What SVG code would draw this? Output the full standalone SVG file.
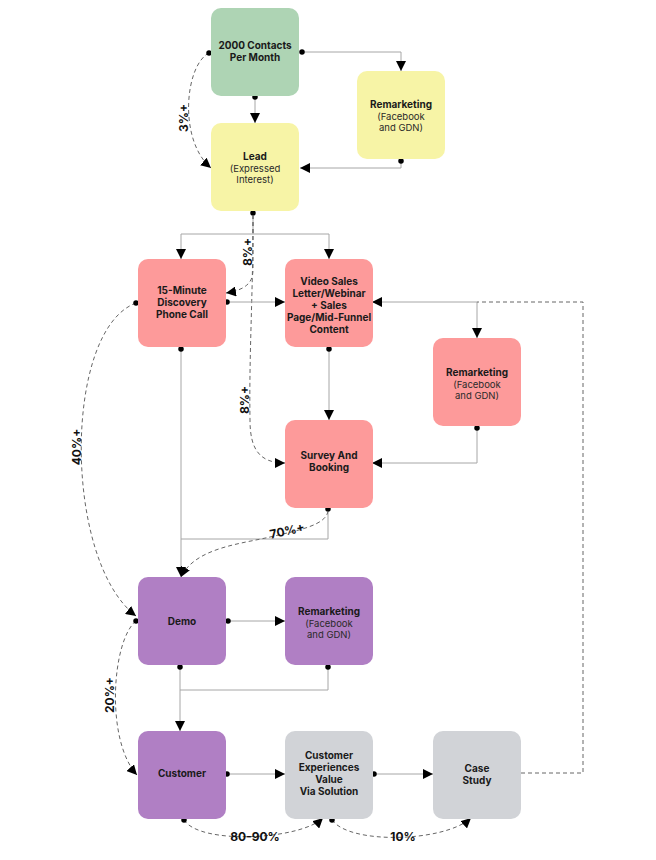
<svg xmlns="http://www.w3.org/2000/svg" width="656" height="860" viewBox="0 0 656 860">
<defs>
<marker id="arr" viewBox="0 0 10 10" refX="10" refY="5" markerWidth="10" markerHeight="10" markerUnits="userSpaceOnUse" orient="auto"><path d="M0,0 L10,5 L0,10 z" fill="#000" stroke="none"/></marker>
<marker id="dot" viewBox="0 0 6 6" refX="3" refY="3" markerWidth="5.5" markerHeight="5.5" markerUnits="userSpaceOnUse"><circle cx="3" cy="3" r="3" fill="#000" stroke="none"/></marker>
</defs>
<style>
.n rect{rx:10;ry:10}
.green{fill:#aed4b4}
.yellow{fill:#f7f4a6}
.pink{fill:#fd9a9a}
.purple{fill:#b07fc4}
.grey{fill:#d1d3d7}
text{font-family:Inter,"Noto Sans","DejaVu Sans",sans-serif;text-anchor:middle;fill:#1a1a1a}
.t{font-size:10px;font-weight:700}
.s{font-size:9.5px;font-weight:400;fill:#2a2a2a}
.c path{fill:none;stroke:#a6a6a6;stroke-width:1}
.c path.d{stroke:#666;stroke-dasharray:4 3}
.c path.a{marker-end:url(#arr)}
.c path.p{marker-start:url(#dot)}
.lbl{font-size:12px;font-weight:700;fill:#111}
</style>
<g class="c" id="connectors">
<path class="a p" d="M302,52 H401 V71"/>
<path class="a p" d="M255,97 V123"/>
<path class="a p" d="M401,161 V168 H300"/>
<path class="d a p" d="M209,53 C185,65 178,140 211,168"/>
<path class="a p" d="M253,213 V234 H181 V259"/>
<path class="a" d="M253,234 H329 V259"/>
<path class="d a" d="M253,215 V270 C253,283 245,290 226,293"/>
<path class="d a" d="M253,215 C253,300 249,350 250,420 C250,450 260,463 285,463"/>
<path class="a p" d="M227,302 H285"/>
<path class="a" d="M477,302 H372"/>
<path class="a" d="M477,302 V338"/>
<path class="d" d="M521,773 H583 V302 H477"/>
<path class="a p" d="M181,349 V577"/>
<path class="a p" d="M329,349 V420"/>
<path class="a p" d="M477,428 V463 H372"/>
<path class="p" d="M328,509 V539 H181"/>
<path class="d a" d="M328,511 C326,525 300,530 270,537 S195,548 181,577"/>
<path class="d a p" d="M136,303 C63,330 63,560 136,616"/>
<path class="d a p" d="M136,621 C112,640 105,740 137,775"/>
<path class="a p" d="M228,621 H285"/>
<path class="a p" d="M180,667 V731"/>
<path class="p" d="M328,667 V690 H180"/>
<path class="a p" d="M227,774 H285"/>
<path class="a p" d="M374,774 H433"/>
<path class="d a p" d="M184,820 C200,845 300,840 323,818"/>
<path class="d a p" d="M332,820 C350,845 445,842 471,818"/>
</g>
<g id="labels">
<text class="lbl" transform="translate(188,118) rotate(-90)">3%+</text>
<text class="lbl" transform="translate(252,252) rotate(-90)">8%+</text>
<text class="lbl" transform="translate(249,400) rotate(-90)">8%+</text>
<text class="lbl" transform="translate(288,535) rotate(-12)">70%+</text>
<text class="lbl" transform="translate(81,447) rotate(-90)">40%+</text>
<text class="lbl" transform="translate(114,695) rotate(-90)">20%+</text>
<text class="lbl" x="255" y="841">80-90%</text>
<text class="lbl" x="403" y="841">10%</text>
</g>
<g class="n" id="contacts"><rect class="green" x="211" y="8" width="88" height="88"/><text class="t" x="255" y="49">2000 Contacts</text><text class="t" x="255" y="61">Per Month</text></g>
<g class="n" id="remarketing1"><rect class="yellow" x="357" y="71" width="88" height="88"/><text class="t" x="401" y="108">Remarketing</text><text class="s" x="401" y="120">(Facebook</text><text class="s" x="401" y="131">and GDN)</text></g>
<g class="n" id="lead"><rect class="yellow" x="211" y="123" width="88" height="88"/><text class="t" x="255" y="160">Lead</text><text class="s" x="255" y="172">(Expressed</text><text class="s" x="255" y="183">Interest)</text></g>
<g class="n" id="discovery"><rect class="pink" x="138" y="259" width="88" height="88"/><text class="t" x="182" y="294">15-Minute</text><text class="t" x="182" y="306">Discovery</text><text class="t" x="182" y="318">Phone Call</text></g>
<g class="n" id="vsl"><rect class="pink" x="285" y="259" width="88" height="88"/><text class="t" x="329" y="285">Video Sales</text><text class="t" x="329" y="297">Letter/Webinar</text><text class="t" x="329" y="309">+ Sales</text><text class="t" x="329" y="321">Page/Mid-Funnel</text><text class="t" x="329" y="333">Content</text></g>
<g class="n" id="remarketing2"><rect class="pink" x="433" y="338" width="88" height="88"/><text class="t" x="477" y="376">Remarketing</text><text class="s" x="477" y="388">(Facebook</text><text class="s" x="477" y="399">and GDN)</text></g>
<g class="n" id="survey"><rect class="pink" x="285" y="420" width="88" height="88"/><text class="t" x="329" y="459">Survey And</text><text class="t" x="329" y="471">Booking</text></g>
<g class="n" id="demo"><rect class="purple" x="138" y="577" width="88" height="88"/><text class="t" x="182" y="625">Demo</text></g>
<g class="n" id="remarketing3"><rect class="purple" x="285" y="577" width="88" height="88"/><text class="t" x="329" y="615">Remarketing</text><text class="s" x="329" y="627">(Facebook</text><text class="s" x="329" y="638">and GDN)</text></g>
<g class="n" id="customer"><rect class="purple" x="138" y="731" width="88" height="88"/><text class="t" x="182" y="777">Customer</text></g>
<g class="n" id="experiences"><rect class="grey" x="285" y="731" width="88" height="88"/><text class="t" x="329" y="759">Customer</text><text class="t" x="329" y="771">Experiences</text><text class="t" x="329" y="783">Value</text><text class="t" x="329" y="795">Via Solution</text></g>
<g class="n" id="casestudy"><rect class="grey" x="433" y="731" width="88" height="88"/><text class="t" x="477" y="772">Case</text><text class="t" x="477" y="784">Study</text></g>
</svg>
